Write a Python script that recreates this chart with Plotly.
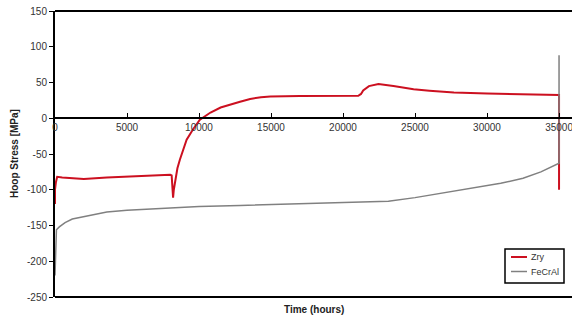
import plotly.graph_objects as go

# Zry series (time in hours, hoop stress in MPa)
zry_time = [0, 0, 60, 150, 500, 1200, 2000, 3600, 5900, 8000, 8100, 8200, 8250, 8350,
            8500, 8670, 8900, 9140, 9600, 10060, 10800, 11500, 12850, 13550, 14300,
            14950, 17000, 19000, 21060, 21250, 21400, 21800, 22460, 23500, 24900,
            26000, 27700, 30000, 32350, 35000, 35000]
zry_stress = [-120, -100, -90, -82, -83, -84, -85, -83, -81, -79, -80, -111, -100, -85,
              -70, -58, -44, -30, -15, -2, 8, 15, 23, 27, 29.5,
              30.5, 31, 31.5, 31.5, 34, 39, 45, 48, 45, 40.5,
              38.5, 36, 34.5, 33.5, 32.5, -100]

# FeCrAl series
fecral_time = [0, 50, 100, 300, 700, 1200, 1700, 2500, 3600, 5000, 5900, 8200, 10000,
               12850, 16000, 20000, 23150, 25000, 27000, 29000, 30950, 32500, 33740,
               35000, 35000]
fecral_stress = [-220, -170, -156, -152, -146, -141, -139, -135, -131, -128.5, -127.5,
                 -125, -123.5, -122, -120, -118, -116, -111, -104.5, -98, -91, -84, -75,
                 -63, 88]

series_names = ["Zry", "FeCrAl"]
series_colors = ["#cc1020", "#808080"]

x_ticks = [0, 5000, 10000, 15000, 20000, 25000, 30000, 35000]
y_ticks = [-250, -200, -150, -100, -50, 0, 50, 100, 150]

FONT = "Liberation Sans, Arial, sans-serif"

fig = go.Figure()
fig.add_trace(go.Scatter(x=zry_time, y=zry_stress, mode="lines", name=series_names[0],
                         line=dict(color=series_colors[0], width=2)))
fig.add_trace(go.Scatter(x=fecral_time, y=fecral_stress, mode="lines", name=series_names[1],
                         line=dict(color=series_colors[1], width=1.5)))

y_range = [-250, 150]
zero_pos = (0 - y_range[0]) / (y_range[1] - y_range[0])

# custom compact legend (paper coordinates)
PW, PH = 517.0, 286.0  # plot area size in px
def px(xp):
    return (xp - 55) / PW
def py(yp):
    return (297 - yp) / PH

shapes = [
    dict(type="line", xref="paper", yref="paper", x0=0, x1=1, y0=1, y1=1,
         line=dict(color="black", width=2)),
    dict(type="line", xref="paper", yref="paper", x0=0, x1=1, y0=0, y1=0,
         line=dict(color="black", width=2)),
    dict(type="rect", xref="paper", yref="paper", x0=px(505), x1=px(564),
         y0=py(283), y1=py(249), line=dict(color="black", width=1.5),
         fillcolor="white", layer="above"),
]
annotations = [
    dict(text="<b>Time (hours)</b>", xref="paper", yref="paper", x=0.5, y=0,
         xanchor="center", yanchor="top", yshift=-5, showarrow=False,
         font=dict(size=10, color="#222222")),
    dict(text="<b>Hoop Stress [MPa]</b>", xref="paper", yref="paper", x=0, y=0.5,
         xanchor="center", yanchor="middle", xshift=-41, textangle=-90,
         showarrow=False, font=dict(size=10, color="#222222")),
]
for i, (nm, col) in enumerate(zip(series_names, series_colors)):
    yy = 257 + i * 14.5
    shapes.append(dict(type="line", xref="paper", yref="paper", x0=px(511), x1=px(527),
                       y0=py(yy), y1=py(yy), line=dict(color=col, width=2 if i == 0 else 1.5),
                       layer="above"))
    annotations.append(dict(text=nm, xref="paper", yref="paper", x=px(529), y=py(yy),
                            xanchor="left", yanchor="middle", showarrow=False,
                            font=dict(size=9, color="#333333")))

fig.update_layout(
    width=572, height=323,
    margin=dict(l=55, r=0, t=11, b=26),
    paper_bgcolor="white", plot_bgcolor="white",
    font=dict(family=FONT, size=10, color="#333333"),
    showlegend=False,
    xaxis=dict(range=[0, 35900], tickvals=x_ticks, ticktext=[str(v) for v in x_ticks],
               showgrid=False, zeroline=False, showline=True, linecolor="black",
               linewidth=2, ticks="inside", ticklen=4, tickcolor="black",
               anchor="free", position=zero_pos, ticklabeloverflow="allow",
               tickfont=dict(size=10, color="#333333")),
    yaxis=dict(range=y_range, tickvals=y_ticks, ticktext=[str(v) for v in y_ticks],
               showgrid=False, zeroline=False, showline=True, linecolor="black",
               linewidth=2, ticks="outside", ticklen=4, tickcolor="black",
               tickfont=dict(size=10, color="#333333")),
    shapes=shapes,
    annotations=annotations,
)

fig.write_html("out.html")
